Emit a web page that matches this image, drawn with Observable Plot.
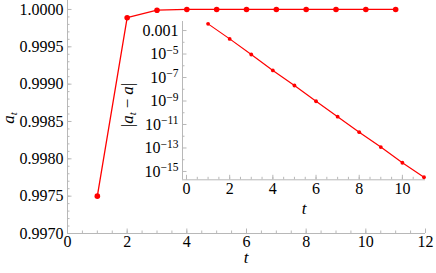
<!DOCTYPE html>
<html><head><meta charset="utf-8">
<script src="https://cdn.jsdelivr.net/npm/d3@7"></script>
<script src="https://cdn.jsdelivr.net/npm/@observablehq/plot@0.6"></script>
<style>
body{margin:0;background:#fff;}
#wrap{position:relative;width:436px;height:273px;}
#wrap svg{position:absolute;left:0;top:0;background:transparent !important;overflow:visible;}
#wrap svg, #wrap svg text, #wrap svg tspan{font-family:"Liberation Serif","Times New Roman","DejaVu Serif",serif !important;}
</style></head><body><div id="wrap"></div>
<script>
// ---- data ----
const T = [1, 2, 3, 4, 5, 6, 7, 8, 9, 10, 11];
const A = [0.9975, 0.99989, 0.99999, 1, 1, 1, 1, 1, 1, 1, 1];
const ERR = [3.7e-3, 1.95e-4, 9.1e-6, 4.0e-7, 2.1e-8, 9.5e-10, 4.6e-11, 2.2e-12, 1.2e-13, 5.5e-15, 3.2e-16];

const mainXTicks = [0, 2, 4, 6, 8, 10, 12];
const mainYTicks = [0.9970, 0.9975, 0.9980, 0.9985, 0.9990, 0.9995, 1.0000];
const mainXMinor = d3.range(0, 12.01, 0.5);
const mainYMinor = d3.range(0, 31).map(i => 0.9970 + i * 0.0001);

const insetXTicks = [0, 2, 4, 6, 8, 10];
const insetXMinor = d3.range(0, 11.01, 0.5);
const insetYTicks = [1e-3, 1e-5, 1e-7, 1e-9, 1e-11, 1e-13, 1e-15];
const insetYLabels = ["0.001", "10^−5", "10^−7", "10^−9", "10^−11", "10^−13", "10^−15"];
const insetYMinor = [1e-4, 1e-6, 1e-8, 1e-10, 1e-12, 1e-14];

const mainData = T.map((t, i) => ({t, a: A[i]}));
const insetData = T.map((t, i) => ({t, e: ERR[i]}));

const gray = "#b8b8b8";
const red = "#ff0000";
const font = "Liberation Serif, Times New Roman, DejaVu Serif, serif";

const xMainDom = [0, 12], yMainDom = [0.9970, 1.00012];
const main = Plot.plot({
  width: 436, height: 273,
  marginLeft: 67, marginRight: 11, marginTop: 0, marginBottom: 40,
  x: {domain: xMainDom},
  y: {domain: yMainDom},
  marks: [
    Plot.ruleY([yMainDom[0]], {stroke: gray}),
    Plot.ruleX([xMainDom[0]], {stroke: gray}),
    Plot.axisX({ticks: mainXMinor, tickSize: -2.5, stroke: gray, tickFormat: () => "", label: null}),
    Plot.axisX({ticks: mainXTicks, tickSize: -4.5, stroke: gray, tickFormat: () => "", label: null}),
    Plot.axisX({ticks: mainXTicks, tickSize: 0, tickPadding: 2, tickFormat: d => String(d), label: null, fontSize: 16, fill: "black"}),
    Plot.axisY({ticks: mainYMinor, tickSize: -2.5, stroke: gray, tickFormat: () => "", label: null}),
    Plot.axisY({ticks: mainYTicks, tickSize: -4.5, stroke: gray, tickFormat: () => "", label: null}),
    Plot.axisY({ticks: mainYTicks, tickSize: 0, tickPadding: 4, tickFormat: d => d.toFixed(4), label: null, fontSize: 16, fill: "black"}),
    Plot.line(mainData, {x: "t", y: "a", stroke: red, strokeWidth: 1.3}),
    Plot.dot(mainData, {x: "t", y: "a", r: 2.8, fill: red})
  ]
});

const xInDom = [-0.185, 11.07], yInDom = [10 ** -15.71, 10 ** -2.23];
const inset = Plot.plot({
  width: 436, height: 273,
  marginLeft: 182, marginRight: 11, marginTop: 21, marginBottom: 93.7,
  x: {domain: xInDom},
  y: {type: "log", domain: yInDom},
  marks: [
    Plot.ruleY([yInDom[0]], {stroke: gray}),
    Plot.ruleX([xInDom[0]], {stroke: gray}),
    Plot.axisX({ticks: insetXMinor, tickSize: -2.5, stroke: gray, tickFormat: () => "", label: null}),
    Plot.axisX({ticks: insetXTicks, tickSize: -4.5, stroke: gray, tickFormat: () => "", label: null}),
    Plot.axisX({ticks: insetXTicks, tickSize: 0, tickPadding: 3, tickFormat: d => String(d), label: null, fontSize: 16, fill: "black"}),
    Plot.axisY({ticks: insetYMinor, tickSize: -2.5, stroke: gray, tickFormat: () => "", label: null}),
    Plot.axisY({ticks: insetYTicks, tickSize: -4.5, stroke: gray, tickFormat: () => "", label: null}),
    Plot.axisY({ticks: insetYTicks, tickSize: 0, tickPadding: 4, tickFormat: d => insetYLabels[insetYTicks.indexOf(d)], label: null, fontSize: 16, fill: "black"}),
    Plot.line(insetData, {x: "t", y: "e", stroke: red, strokeWidth: 1.2}),
    Plot.dot(insetData, {x: "t", y: "e", r: 1.9, fill: red})
  ]
});

const wrap = document.getElementById("wrap");
wrap.appendChild(main);
wrap.appendChild(inset);

// superscripts in inset tick labels
d3.select(inset).selectAll("text").each(function () {
  const s = this.textContent;
  if (s.includes("^")) {
    const [b, e] = s.split("^");
    const el = d3.select(this);
    el.text(null);
    el.append("tspan").text(b);
    el.append("tspan").attr("dy", "-0.45em").attr("font-size", "11.5px").text(e);
  }
});

// axis labels
d3.select(main).append("g").attr("font-family", font).attr("font-size", 17).attr("fill", "black").html(
  `<text transform="translate(14,118) rotate(-90)" text-anchor="middle"><tspan font-style="italic">a</tspan><tspan dy="3" font-size="11" font-style="italic">t</tspan></text>
   <text x="246" y="263" text-anchor="middle" font-style="italic">t</text>`
);
d3.select(inset).append("g").attr("font-family", font).attr("font-size", 17).attr("fill", "black").html(
  `<text transform="translate(133,105) rotate(-90)" text-anchor="middle"><tspan>|</tspan><tspan font-style="italic">a</tspan><tspan dy="3" font-size="11" font-style="italic">t</tspan><tspan dy="-3" dx="4">−</tspan><tspan dx="4" font-style="italic">a</tspan><tspan>|</tspan></text>
   <text x="304" y="214" text-anchor="middle" font-style="italic">t</text>`
);
</script></body></html>
